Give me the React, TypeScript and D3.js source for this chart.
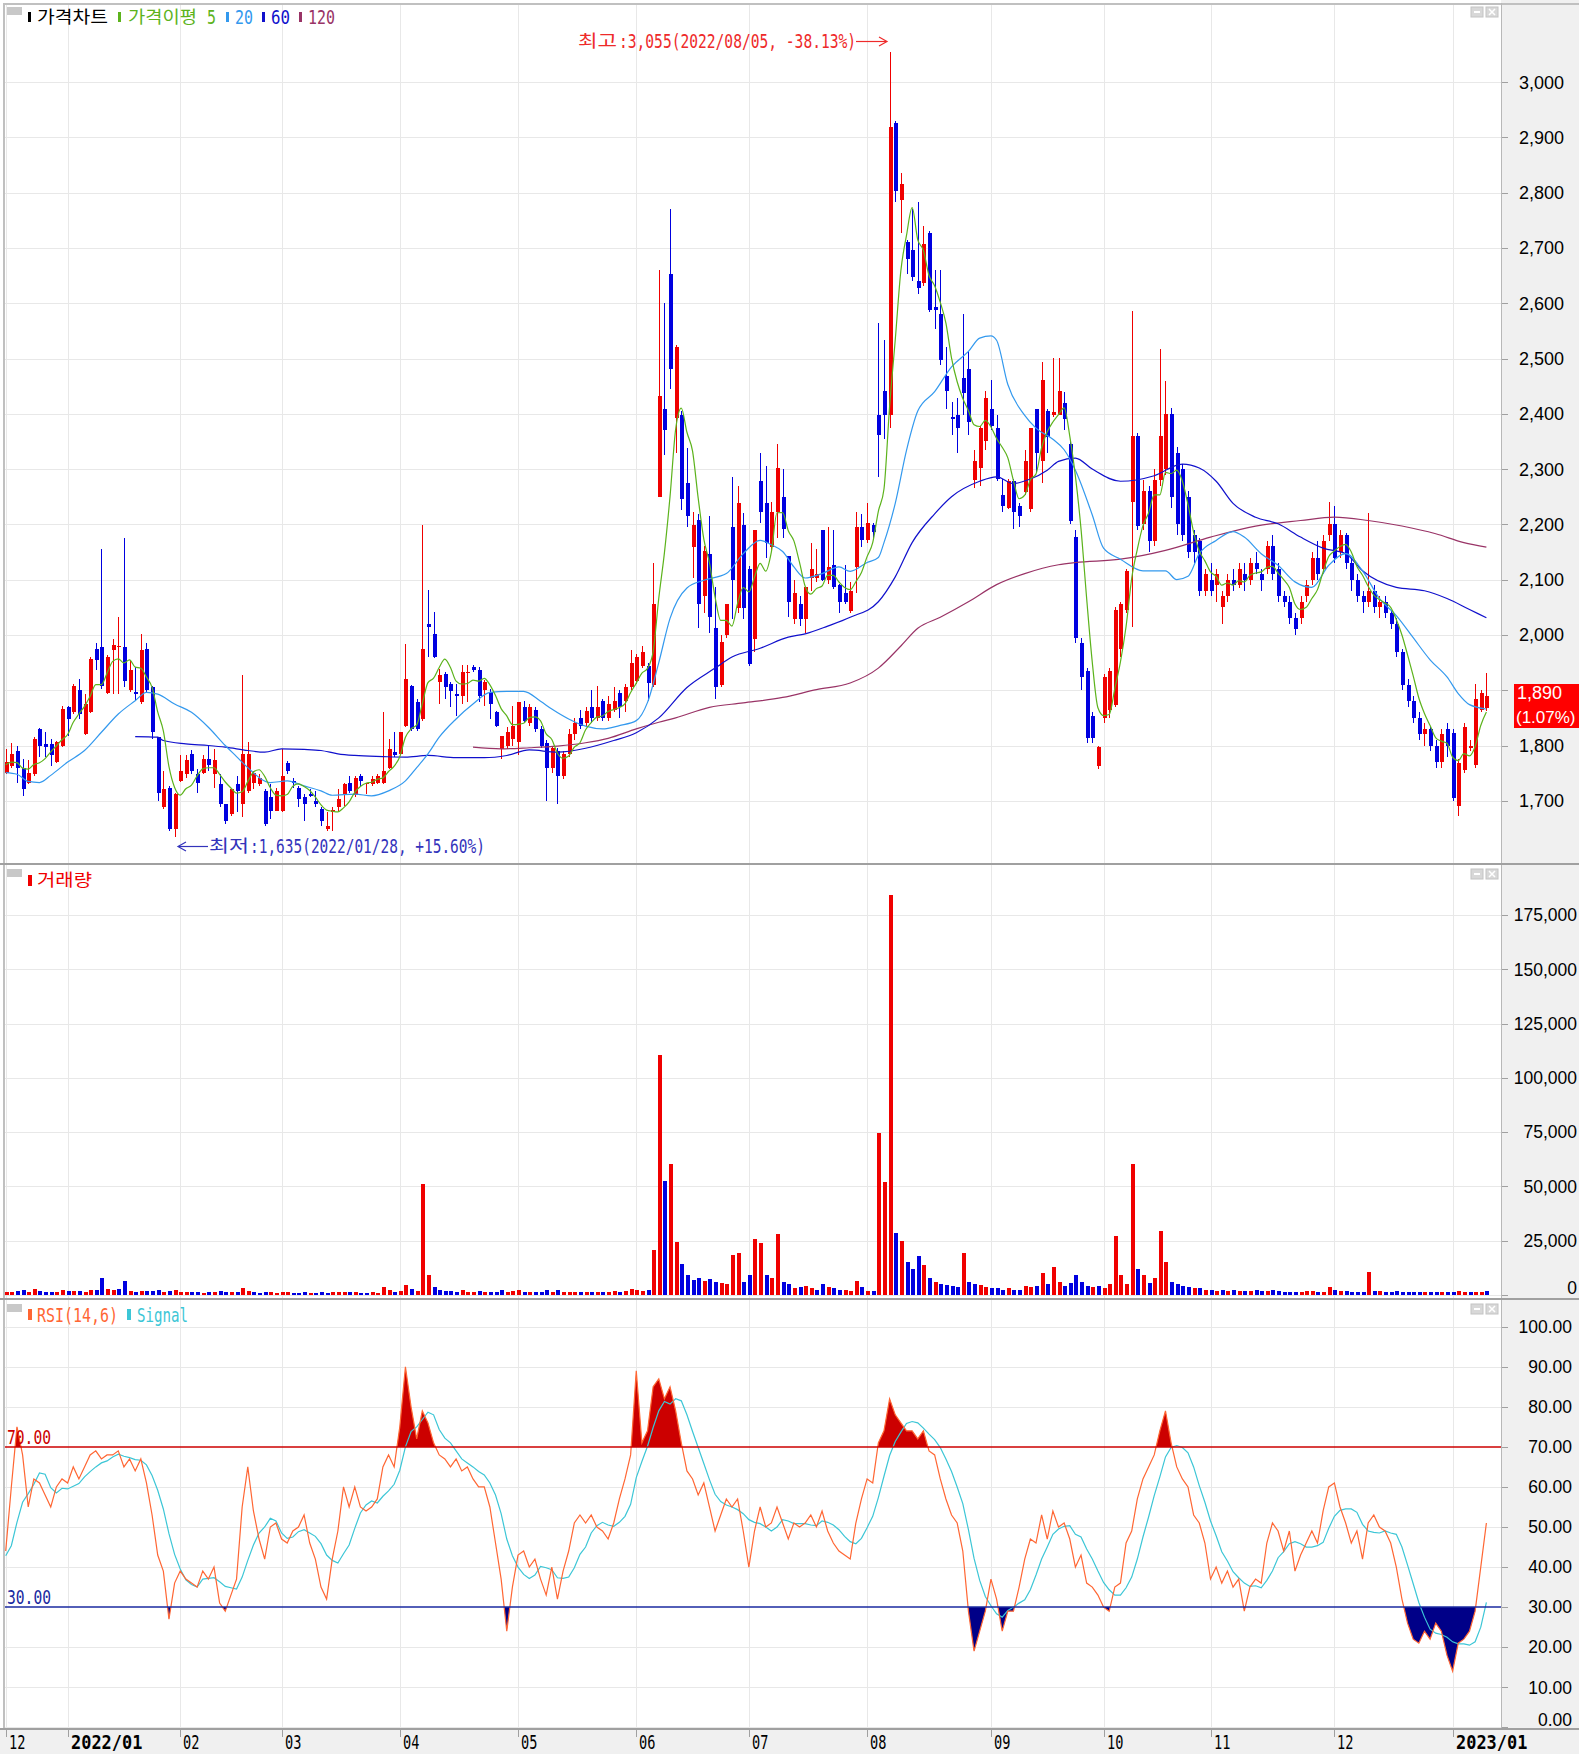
import React from "react";
import * as d3 from "d3";

const monthLabels = ["12","2022/01","02","03","04","05","06","07","08","09","10","11","12","2023/01"];
const monthBold = [false,true,false,false,false,false,false,false,false,false,false,false,false,true];
const monthDays = [11,20,18,21,21,21,20,21,22,20,19,22,21,7];

const openP = [
1751,1763,1790,1760,1733,1748,1830,1802,1803,1770,
1800,1870,1860,1901,1821,1860,1975,1979,1895,1973,
1978,1979,1900,1897,1878,1975,1905,1815,1688,1724,
1649,1736,1748,1785,1748,1751,1776,1748,1730,1694,
1676,1730,1694,1718,1733,1730,1718,1706,1682,1682,
1769,1736,1724,1706,1712,1700,1685,1649,1680,1688,
1710,1733,1710,1745,1730,1730,1733,1733,1760,1788,
1785,1836,1908,1878,1848,2020,2002,1915,1930,1911,
1893,1890,1931,1942,1936,1900,1896,1860,1794,1800,
1812,1806,1870,1840,1865,1830,1805,1760,1790,1745,
1785,1820,1850,1840,1870,1850,1880,1850,1865,1895,
1880,1905,1917,1944,1944,1909,2250,2409,2652,2393,
2397,2274,2159,2208,2071,2147,2012,1909,2000,2195,
2048,2199,2119,1992,2278,2238,2159,2223,2250,2143,
2028,2056,2028,2103,2103,2189,2099,2127,2091,2075,
2044,2123,2195,2171,2199,2397,2441,2397,2926,2787,
2711,2696,2640,2636,2727,2594,2580,2469,2395,2397,
2465,2481,2280,2302,2350,2409,2374,2254,2230,2278,
2234,2258,2227,2409,2314,2405,2398,2397,2420,2345,
2177,1985,1934,1853,1763,1850,1864,1874,1975,2046,
2240,2359,2200,2260,2170,2280,2300,2400,2330,2300,
2250,2180,2170,2080,2100,2090,2050,2070,2100,2090,
2110,2100,2130,2110,2120,2160,2120,2070,2060,2030,
2030,2070,2100,2140,2120,2180,2200,2150,2180,2130,
2100,2070,2060,2080,2050,2060,2040,2020,1970,1910,
1880,1850,1820,1830,1800,1770,1830,1823,1690,1755,
1795,1765,1864,1868];

const highP = [
1794,1805,1800,1775,1773,1815,1832,1824,1812,1808,
1872,1872,1912,1920,1893,1960,1985,2156,1963,1993,
2032,2176,1954,1942,2002,1985,1908,1815,1754,1726,
1715,1782,1782,1791,1757,1782,1800,1794,1748,1695,
1722,1745,1927,1806,1754,1748,1721,1730,1724,1794,
1772,1742,1727,1712,1721,1718,1688,1679,1688,1721,
1733,1745,1745,1748,1733,1745,1748,1860,1812,1824,
1825,1984,1910,1884,2198,2081,2041,1939,1933,1915,
1911,1945,1945,1945,1942,1918,1902,1863,1818,1833,
1872,1878,1880,1875,1870,1835,1810,1800,1795,1790,
1830,1850,1865,1870,1900,1907,1885,1890,1905,1900,
1911,1972,1965,1980,1950,2131,2660,2600,2771,2525,
2405,2338,2223,2219,2160,2215,2087,2000,2056,2286,
2270,2220,2125,2190,2330,2306,2240,2345,2300,2143,
2099,2070,2087,2167,2155,2190,2195,2190,2093,2127,
2095,2222,2219,2238,2203,2564,2533,3055,2930,2835,
2715,2771,2783,2739,2731,2660,2660,2521,2421,2429,
2580,2513,2334,2378,2441,2461,2397,2282,2282,2282,
2238,2334,2374,2409,2493,2409,2501,2501,2440,2350,
2190,1995,1940,1860,1800,1930,1940,2050,2060,2120,
2586,2365,2280,2270,2300,2517,2460,2410,2340,2310,
2260,2190,2175,2120,2130,2120,2080,2110,2120,2130,
2130,2140,2150,2120,2170,2180,2130,2080,2070,2040,
2070,2100,2150,2170,2180,2240,2234,2190,2185,2140,
2110,2080,2220,2090,2070,2070,2045,2030,1975,1920,
1890,1860,1840,1835,1810,1830,1840,1830,1775,1840,
1810,1912,1900,1932];

const lowP = [
1748,1760,1733,1709,1730,1745,1779,1779,1763,1768,
1797,1818,1857,1848,1819,1858,1936,1903,1894,1894,
1894,1906,1897,1882,1875,1897,1812,1700,1686,1646,
1635,1734,1742,1748,1715,1748,1754,1724,1688,1658,
1673,1679,1670,1715,1721,1727,1655,1667,1682,1679,
1748,1724,1688,1664,1706,1688,1655,1646,1646,1682,
1691,1715,1706,1727,1712,1727,1730,1730,1757,1779,
1782,1833,1827,1827,1845,1960,1958,1875,1885,1870,
1854,1875,1878,1933,1878,1872,1848,1833,1776,1794,
1800,1782,1840,1835,1825,1795,1700,1750,1695,1740,
1780,1810,1830,1835,1840,1845,1845,1845,1860,1850,
1860,1900,1912,1940,1880,1905,2250,2326,2445,2330,
2226,2195,2103,2012,2040,2004,1885,1905,1995,2028,
2040,2028,1944,1970,2203,2139,2150,2175,2175,2032,
2020,2016,2004,2080,2095,2097,2092,2084,2040,2056,
2040,2075,2159,2167,2171,2286,2354,2374,2783,2727,
2652,2640,2616,2632,2584,2553,2489,2409,2362,2330,
2397,2362,2266,2270,2334,2370,2278,2223,2227,2191,
2195,2254,2223,2294,2274,2330,2394,2397,2370,2200,
1985,1900,1805,1805,1757,1840,1850,1870,1960,2040,
2015,2190,2190,2150,2160,2270,2290,2230,2180,2170,
2140,2130,2070,2070,2070,2060,2020,2060,2080,2085,
2080,2090,2110,2080,2110,2100,2060,2050,2020,2000,
2020,2060,2090,2100,2110,2170,2130,2140,2120,2080,
2060,2040,2050,2040,2030,2030,2010,1960,1900,1870,
1840,1810,1800,1790,1760,1760,1780,1700,1672,1750,
1790,1760,1860,1862];

const closeP = [
1770,1785,1760,1721,1751,1812,1800,1798,1782,1806,
1866,1848,1908,1857,1875,1957,1954,1908,1960,1982,
1980,1917,1936,1894,1972,1900,1824,1715,1721,1649,
1712,1754,1773,1754,1733,1775,1764,1773,1694,1664,
1721,1718,1785,1785,1751,1742,1658,1682,1718,1745,
1754,1733,1703,1694,1709,1694,1664,1655,1684,1703,
1730,1718,1742,1736,1733,1739,1745,1754,1794,1782,
1824,1920,1830,1830,1975,2014,1960,1927,1906,1899,
1890,1933,1933,1936,1890,1915,1875,1836,1818,1824,
1836,1878,1845,1870,1830,1800,1760,1795,1745,1785,
1820,1840,1835,1862,1850,1870,1850,1875,1880,1869,
1905,1950,1960,1970,1913,2056,2433,2370,2481,2521,
2246,2215,2199,2056,2151,2032,1905,1988,2056,2099,
2238,2048,1948,2190,2223,2167,2223,2302,2191,2060,
2075,2028,2087,2119,2110,2099,2123,2087,2060,2060,
2079,2195,2171,2203,2187,2362,2397,2918,2803,2815,
2680,2648,2628,2707,2588,2588,2497,2441,2390,2374,
2437,2386,2314,2374,2429,2378,2282,2234,2278,2223,
2215,2314,2374,2330,2461,2358,2403,2441,2390,2207,
1995,1924,1813,1813,1797,1924,1934,2046,2056,2116,
2360,2197,2260,2170,2280,2360,2400,2250,2200,2180,
2150,2150,2080,2110,2080,2110,2070,2100,2090,2120,
2100,2130,2120,2100,2160,2110,2070,2060,2030,2010,
2060,2090,2140,2110,2170,2200,2140,2180,2130,2100,
2070,2060,2080,2050,2060,2040,2020,1970,1910,1880,
1850,1820,1830,1800,1770,1820,1800,1705,1768,1833,
1800,1885,1895,1890];

const volumeV = [
1500,1200,1800,2200,1300,2600,1800,1400,1600,1500,
2400,1800,2000,1700,1500,2500,2200,7700,2600,2300,
2800,6650,1800,1500,2000,1700,1900,2400,1500,1900,
2100,1500,1300,1200,1400,1100,1200,1500,1700,1300,
1200,1400,3200,1800,1200,1000,1400,1200,1100,1600,
1200,1000,1100,1200,900,1000,1400,1100,1200,1300,
1400,1200,1300,1100,1000,1200,1100,3500,2400,1500,
2000,4500,2600,1800,51200,9200,3500,2500,2000,1800,
1500,2200,1500,1300,1800,1500,1400,1600,2100,1500,
1700,2200,1600,1500,1400,1500,2200,1400,2100,1300,
1500,1600,1300,1400,1500,1600,1400,1500,1700,1300,
1900,2600,2400,2000,2200,20500,110500,52700,60400,24600,
14300,9200,7000,8000,6500,7500,6000,5500,5000,18400,
19400,6000,9000,26000,24000,9000,8000,28100,6000,5000,
3000,3500,4000,3000,2500,5000,3500,3000,2500,2500,
2000,6500,3500,2000,2000,74700,52000,184200,28650,25000,
15000,12000,18000,14000,8000,6000,5000,4500,4000,3500,
19400,6000,5000,4500,3500,3000,3000,2500,3000,2500,
2500,4000,3500,4000,10000,5000,13000,6000,4000,5500,
9000,6000,4000,3500,4000,3000,5000,27100,9000,5000,
60400,12000,9000,5500,8000,29700,15400,6000,5000,4000,
3500,3000,3000,2500,2500,2000,2500,2000,2200,2000,
1800,2000,2500,2000,1800,2200,1800,1500,1600,1400,
1500,1800,2000,1600,1500,3500,2500,2000,1800,1600,
1500,1400,10700,2000,1800,1600,1500,1800,1500,1400,
1300,1500,1400,1200,1300,1400,1500,1600,1800,1500,
1400,1500,1600,1800];

const rsiV = [
44,60,75,68,55,62,61,58,55,60,
62,61,65,62,65,68,69,67,68,68,
69,65,67,64,67,61,53,43,39,27,
36,39,37,36,35,39,37,40,31,29,
33,37,55,65,54,47,42,50,51,47,
46,49,50,53,46,42,35,32,42,49,
60,55,60,55,54,55,57,65,68,65,
75,90,80,72,79,76,71,68,67,65,
67,64,65,62,60,60,55,46,37,24,
35,43,44,40,42,37,33,40,32,39,
44,51,53,51,53,50,49,47,51,57,
62,68,89,71,74,85,87,82,85,79,
71,64,62,58,61,55,49,53,57,55,
57,49,40,49,55,50,51,55,51,47,
51,50,51,53,50,54,49,46,44,43,
42,51,57,62,61,71,74,82,78,76,
74,74,72,74,69,68,62,57,53,51,
44,29,19,24,29,37,32,24,29,29,
35,42,47,46,53,47,54,50,51,47,
40,43,36,35,33,30,29,35,36,46,
49,57,62,65,68,74,79,71,65,62,
60,53,51,46,37,40,36,39,35,37,
29,35,37,36,46,51,49,44,49,39,
43,46,49,46,54,60,61,55,51,46,
49,42,51,53,50,49,46,40,32,26,
22,21,24,22,26,24,18,14,21,22,
24,29,40,51];

const preCloses = [1760, 1765, 1770, 1760];
const preRsi = [45, 40, 38, 42, 48];

const ma20Idx = [0,2,4,6,8,11,14,17,20,23,25,27,30,33,36,39,41,43,47,50,53,56,58,62,65,68,71,73,75,77,80,83,86,89,92,95,97,100,103,106,109,112,114,116,118,121,124,128,131,134,136,138,140,142,145,148,150,153,155,156,158,160,162,165,168,171,173,175,176,178,181,183,186,188,190,193,195,198,202,206,208,210,212,215,218,220,223,226,229,232,235,238,241,244,247,250,253,256,258,260,263];
const ma20Val = [1751,1748,1735,1733,1746,1770,1791,1824,1857,1881,1896,1893,1875,1860,1833,1800,1780,1760,1733,1736,1727,1718,1710,1712,1709,1718,1736,1760,1785,1815,1848,1875,1896,1898,1898,1880,1866,1848,1835,1830,1836,1845,1878,1950,2030,2085,2099,2111,2147,2171,2163,2151,2123,2103,2111,2123,2115,2131,2140,2167,2238,2334,2405,2440,2485,2513,2537,2541,2533,2453,2397,2374,2354,2335,2298,2217,2157,2137,2116,2116,2100,2106,2147,2171,2187,2177,2147,2126,2096,2086,2126,2147,2116,2066,2035,1995,1955,1924,1894,1874,1866];

const ma60Idx = [23,27,28,32,36,39,43,46,49,53,56,59,62,67,71,75,80,85,89,93,98,103,108,112,116,121,126,129,134,139,142,146,150,155,158,161,165,168,173,176,179,182,185,187,190,193,198,204,209,212,215,218,222,226,230,234,238,241,247,252,256,260,263];
const ma60Val = [1816,1815,1809,1803,1800,1797,1791,1788,1794,1793,1791,1785,1782,1780,1779,1782,1778,1778,1782,1792,1788,1795,1809,1823,1850,1905,1940,1960,1976,1996,2002,2016,2032,2060,2105,2167,2219,2250,2278,2286,2274,2282,2298,2314,2320,2300,2278,2288,2309,2302,2278,2238,2213,2201,2177,2157,2147,2116,2086,2080,2066,2046,2031];

const ma120Idx = [83,88,93,98,103,107,112,116,119,125,131,138,144,150,155,159,162,166,171,176,181,187,190,198,206,214,222,230,236,242,248,254,259,263];
const ma120Val = [1797,1794,1796,1799,1805,1813,1830,1842,1850,1869,1877,1887,1901,1913,1940,1980,2012,2032,2060,2091,2111,2127,2131,2137,2153,2177,2197,2207,2213,2207,2197,2183,2167,2159];

const priceTicks = [1700,1800,1900,2000,2100,2200,2300,2400,2500,2600,2700,2800,2900,3000];
const volTicks = [0,25000,50000,75000,100000,125000,150000,175000];
const rsiTicks = [0,10,20,30,40,50,60,70,80,90,100];

const RED = "#f00000";
const BLUE = "#0000e0";
const C_MA5 = "#5cb31c";
const C_MA20 = "#3399ee";
const C_MA60 = "#1010cc";
const C_MA120 = "#993366";
const C_RSI = "#ff6633";
const C_SIG = "#3cc6d6";
const GRID = "#e8e8e8";
const AXISBG = "#f0f0f0";
const MONO = "'DejaVu Sans Mono', 'Liberation Mono', monospace";
const SANS = "'Liberation Sans', Arial, sans-serif";
const KR = "'Noto Sans CJK KR', 'Noto Sans', sans-serif";

function MT(props: { x: number; y: number; t: string; fill?: string; anchor?: string; cw?: number; size?: number; bold?: boolean }) {
  const { x, y, t, fill = "#000", anchor = "start", cw = 8.8, size = 19, bold = false } = props;
  return (
    <text x={x} y={y} dy="0.36em" fill={fill} fontFamily={MONO} fontSize={size} fontWeight={bold ? "bold" : "normal"}
      textAnchor={anchor as any} textLength={t.length * cw} lengthAdjust="spacingAndGlyphs">{t}</text>
  );
}

function AT(props: { x: number; y: number; t: string; fill?: string; anchor?: string; size?: number; bold?: boolean }) {
  const { x, y, t, fill = "#000", anchor = "end", size = 18, bold = false } = props;
  return (
    <text x={x} y={y} dy="0.36em" fill={fill} fontFamily={SANS} fontSize={size} fontWeight={bold ? "bold" : "normal"}
      textAnchor={anchor as any}>{t}</text>
  );
}

function KT(props: { x: number; y: number; t: string; fill?: string; w?: number; size?: number }) {
  const { x, y, t, fill = "#000", w, size = 17 } = props;
  return (
    <text x={x} y={y} dy="0.36em" fill={fill} fontFamily={KR} fontSize={size}
      {...(w ? { textLength: w, lengthAdjust: "spacingAndGlyphs" } : {})}>{t}</text>
  );
}

function PanelIcons({ y }: { y: number }) {
  return (
    <g>
      <rect x={7} y={y} width={15} height={8} fill="#c8c8c8" />
      <rect x={1471} y={y} width={12} height={10} fill="#d8d8d8" stroke="#c4c4c4" />
      <rect x={1474} y={y + 4} width={6} height={2} fill="#fff" />
      <rect x={1486} y={y} width={12} height={10} fill="#d8d8d8" stroke="#c4c4c4" />
      <path d={`M${1489},${y + 2} L${1495},${y + 8} M${1495},${y + 2} L${1489},${y + 8}`} stroke="#fff" strokeWidth={1.5} />
    </g>
  );
}

export default function App() {
  const W = 1579, H = 1754;
  const N = closeP.length;
  const x = d3.scaleLinear().domain([0, N - 1]).range([5.7, 5.7 + (N - 1) * 5.63]);
  const yP = d3.scaleLinear().domain([1700, 3000]).range([800.8, 82.1]);
  const yV = d3.scaleLinear().domain([0, 175000]).range([1295, 915]);
  const yR = d3.scaleLinear().domain([0, 100]).range([1727.3, 1326.7]);

  const starts: number[] = [];
  let acc = 0;
  monthDays.forEach((d) => { starts.push(acc); acc += d; });

  const idx = d3.range(N);
  const closesAll = preCloses.concat(closeP);
  const ma5 = idx.map((i) => d3.mean(closesAll.slice(i, i + 5)) as number);
  const rsiAll = preRsi.concat(rsiV);
  const sig = idx.map((i) => d3.mean(rsiAll.slice(i, i + 6)) as number);

  const smooth = d3.line<[number, number]>().x((d) => x(d[0])).y((d) => yP(d[1])).curve(d3.curveMonotoneX);
  const ma20Pts = ma20Idx.map((v, k) => [v, ma20Val[k]] as [number, number]);
  const ma60Pts = ma60Idx.map((v, k) => [v, ma60Val[k]] as [number, number]);
  const ma120Pts = ma120Idx.map((v, k) => [v, ma120Val[k]] as [number, number]);
  const ma5Pts = idx.map((i) => [i, ma5[i]] as [number, number]);

  const rsiLine = d3.line<number>().x((_, i) => x(i)).y((d) => yR(d));
  const areaHi = d3.area<number>().x((_, i) => x(i)).y0(yR(70)).y1((d) => yR(d));
  const areaLo = d3.area<number>().x((_, i) => x(i)).y0(yR(30)).y1((d) => yR(d));

  const PR = 1501;
  const lastClose = closeP[N - 1];

  return (
    <div style={{ position: "absolute", left: 0, top: 0, width: W, height: H, overflow: "hidden" }}>
      <svg width={W} height={H} style={{ display: "block" }}>
        <defs>
          <clipPath id="cP"><rect x={5} y={4} width={PR - 5} height={859} /></clipPath>
          <clipPath id="cR"><rect x={5} y={1300} width={PR - 5} height={428} /></clipPath>
          <clipPath id="cHi"><rect x={5} y={1300} width={PR - 5} height={yR(70) - 1300} /></clipPath>
          <clipPath id="cLo"><rect x={5} y={yR(30)} width={PR - 5} height={1728 - yR(30)} /></clipPath>
        </defs>
        <rect x={0} y={0} width={W} height={H} fill="#fff" />
        <rect x={PR} y={0} width={W - PR} height={H} fill={AXISBG} />
        <rect x={0} y={1729} width={W} height={H - 1729} fill={AXISBG} />

        <g shapeRendering="crispEdges" stroke={GRID} strokeWidth={1}>
          {priceTicks.map((t) => <line key={"pg" + t} x1={5} x2={PR} y1={Math.round(yP(t)) + 0.5} y2={Math.round(yP(t)) + 0.5} />)}
          {volTicks.map((t) => <line key={"vg" + t} x1={5} x2={PR} y1={Math.round(yV(t)) + 0.5} y2={Math.round(yV(t)) + 0.5} />)}
          {rsiTicks.filter((t) => t !== 30 && t !== 70).map((t) => <line key={"rg" + t} x1={5} x2={PR} y1={Math.round(yR(t)) + 0.5} y2={Math.round(yR(t)) + 0.5} />)}
          {starts.map((s, k) => <line key={"mg" + k} x1={Math.round(x(s)) + 0.5} x2={Math.round(x(s)) + 0.5} y1={4} y2={1728} />)}
        </g>

        <g clipPath="url(#cP)">
          {idx.map((i) => {
            const o = openP[i], c = closeP[i];
            const h = Math.max(highP[i], o, c), l = Math.min(lowP[i], o, c);
            const col = c >= o ? RED : BLUE;
            const cx = Math.round(x(i));
            const top = Math.round(yP(Math.max(o, c)));
            const bot = Math.round(yP(Math.min(o, c)));
            return (
              <g key={"c" + i} shapeRendering="crispEdges">
                <rect x={cx} y={yP(h)} width={1} height={Math.max(1, yP(l) - yP(h))} fill={col} />
                <rect x={cx - 1} y={top} width={4} height={Math.max(1, bot - top)} fill={col} />
              </g>
            );
          })}
          <path d={smooth(ma120Pts) || ""} fill="none" stroke={C_MA120} strokeWidth={1.2} />
          <path d={smooth(ma60Pts) || ""} fill="none" stroke={C_MA60} strokeWidth={1.2} />
          <path d={smooth(ma20Pts) || ""} fill="none" stroke={C_MA20} strokeWidth={1.2} />
          <path d={smooth(ma5Pts) || ""} fill="none" stroke={C_MA5} strokeWidth={1.2} />
        </g>

        <g shapeRendering="crispEdges">
          {idx.map((i) => {
            const prev = i === 0 ? preCloses[preCloses.length - 1] : closeP[i - 1];
            const col = closeP[i] >= prev ? RED : BLUE;
            const cx = Math.round(x(i));
            const yt = Math.round(yV(volumeV[i]));
            return <rect key={"v" + i} x={cx - 1} y={yt} width={4} height={Math.max(1, yV(0) - yt)} fill={col} />;
          })}
        </g>

        <g clipPath="url(#cR)">
          <g clipPath="url(#cHi)"><path d={areaHi(rsiV) || ""} fill="#cc0000" /></g>
          <g clipPath="url(#cLo)"><path d={areaLo(rsiV) || ""} fill="#000088" /></g>
          <path d={rsiLine(sig) || ""} fill="none" stroke={C_SIG} strokeWidth={1.2} />
          <path d={rsiLine(rsiV) || ""} fill="none" stroke={C_RSI} strokeWidth={1.2} />
        </g>
        <line x1={5} x2={PR} y1={yR(70)} y2={yR(70)} stroke="#cc0000" strokeWidth={1.5} />
        <line x1={5} x2={PR} y1={yR(30)} y2={yR(30)} stroke="#1a2aa0" strokeWidth={1.5} />
        <MT x={7} y={yR(70) - 10} t="70.00" fill="#cc0000" />
        <MT x={7} y={yR(30) - 10} t="30.00" fill="#1a2aa0" />

        <g shapeRendering="crispEdges">
          <line x1={3.5} x2={3.5} y1={3} y2={1729} stroke="#c0c0c0" strokeWidth={2} />
          <line x1={3} x2={W} y1={3.5} y2={3.5} stroke="#c0c0c0" strokeWidth={2} />
          <line x1={PR + 0.5} x2={PR + 0.5} y1={3} y2={1729} stroke="#b8b8b8" />
          <line x1={0} x2={W} y1={863.5} y2={863.5} stroke="#a0a0a0" strokeWidth={2} />
          <line x1={0} x2={W} y1={1298.5} y2={1298.5} stroke="#a0a0a0" strokeWidth={2} />
          <line x1={0} x2={W} y1={1729} y2={1729} stroke="#a0a0a0" strokeWidth={1.5} />
        </g>

        <g shapeRendering="crispEdges" stroke="#a0a0a0">
          {priceTicks.map((t) => <line key={"pt" + t} x1={PR + 1} x2={PR + 7} y1={Math.round(yP(t)) + 0.5} y2={Math.round(yP(t)) + 0.5} />)}
          {volTicks.map((t) => <line key={"vt" + t} x1={PR + 1} x2={PR + 7} y1={Math.round(yV(t)) + 0.5} y2={Math.round(yV(t)) + 0.5} />)}
          {rsiTicks.map((t) => <line key={"rt" + t} x1={PR + 1} x2={PR + 7} y1={Math.round(yR(t)) + 0.5} y2={Math.round(yR(t)) + 0.5} />)}
          {starts.map((s, k) => <line key={"mt" + k} x1={Math.round(x(s)) + 0.5} x2={Math.round(x(s)) + 0.5} y1={1729} y2={1737} />)}
        </g>
        {priceTicks.map((t) => <AT key={"pl" + t} x={1564} y={yP(t)} t={d3.format(",")(t)} size={18} />)}
        {volTicks.map((t) => <AT key={"vl" + t} x={1577} y={t === 0 ? 1288 : yV(t)} t={d3.format(",")(t)} size={17.5} />)}
        {rsiTicks.map((t) => <AT key={"rl" + t} x={1572} y={t === 0 ? 1720 : yR(t)} t={t.toFixed(2)} size={17.5} />)}
        {monthLabels.map((m, k) => (
          <MT key={"ml" + k} x={Math.round(x(starts[k])) + 3} y={1742} t={m} bold={monthBold[k]} cw={monthBold[k] ? 10.2 : 8.2} size={20} />
        ))}

        <rect x={1514} y={684} width={65} height={44} fill="#ff0000" />
        <AT x={1517} y={yP(lastClose) - 3} t={d3.format(",")(lastClose)} fill="#fff" anchor="start" size={18} />
        <AT x={1516} y={717} t="(1.07%)" fill="#fff" anchor="start" size={17} />

        <PanelIcons y={7} />
        <rect x={28} y={12} width={3} height={10} fill="#000" />
        <KT x={37} y={17} t="가격차트" fill="#000" w={71} />
        <rect x={118} y={12} width={3} height={10} fill={C_MA5} />
        <KT x={128} y={17} t="가격이평" fill={C_MA5} w={69} />
        <MT x={207} y={17} t="5" fill={C_MA5} cw={9} />
        <rect x={226} y={12} width={3} height={10} fill={C_MA20} />
        <MT x={235} y={17} t="20" fill={C_MA20} cw={9} />
        <rect x={262} y={12} width={3} height={10} fill={C_MA60} />
        <MT x={271} y={17} t="60" fill={C_MA60} cw={9.5} />
        <rect x={299} y={12} width={3} height={10} fill={C_MA120} />
        <MT x={308} y={17} t="120" fill={C_MA120} cw={9} />

        <PanelIcons y={869} />
        <rect x={28} y={875} width={4} height={11} fill={RED} />
        <KT x={37} y={880} t="거래량" fill={RED} w={55} />

        <PanelIcons y={1304} />
        <rect x={28} y={1309} width={4} height={11} fill={C_RSI} />
        <MT x={37} y={1315} t="RSI(14,6)" fill={C_RSI} cw={9} />
        <rect x={127} y={1309} width={4} height={11} fill={C_SIG} />
        <MT x={137} y={1315} t="Signal" fill={C_SIG} cw={8.5} />

        <KT x={578} y={41} t="최고" fill="#ee2a2a" w={39} />
        <MT x={619} y={41} t=":3,055(2022/08/05, -38.13%)" fill="#ee2a2a" cw={8.78} />
        <line x1={856} x2={886} y1={41.5} y2={41.5} stroke="#ee2a2a" strokeWidth={1.2} />
        <path d="M879,37 L887,41.5 L879,46" fill="none" stroke="#ee2a2a" strokeWidth={1.2} />

        <line x1={179} x2={208} y1={846.5} y2={846.5} stroke="#3333bb" strokeWidth={1.2} />
        <path d="M186,842 L178,846.5 L186,851" fill="none" stroke="#3333bb" strokeWidth={1.2} />
        <KT x={209} y={846} t="최저" fill="#3333bb" w={40} />
        <MT x={250} y={846} t=":1,635(2022/01/28, +15.60%)" fill="#3333bb" cw={8.7} />
      </svg>
    </div>
  );
}
